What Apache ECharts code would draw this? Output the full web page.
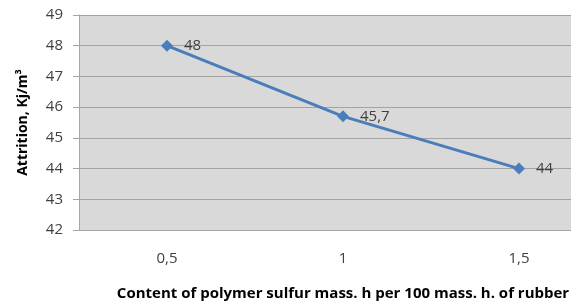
<!DOCTYPE html>
<html>
<head>
<meta charset="utf-8">
<script src="https://cdn.jsdelivr.net/npm/echarts@6/dist/echarts.min.js"></script>
<style>
  html, body { margin: 0; padding: 0; background: #fff; }
  #wrap { width: 571px; height: 303px; overflow: hidden; }
  #main { width: 620px; height: 303px; }
</style>
</head>
<body>
<div id="wrap"><div id="main"></div></div>
<script>
// content of polymer sulfur (categories) and attrition values
const categories = ['0,5', '1', '1,5']
const attrition = [48, 45.7, 44]
const yMin = 42
const yMax = 49

var myChart = echarts.init(document.getElementById('main'))

var option = {
    animation: false,
    textStyle: { fontFamily: 'Open Sans' },
    grid: {
        left: 79,
        right: 13,
        top: 15,
        bottom: 73,
        outerBoundsMode: 'none',
        show: true,
        backgroundColor: '#d9d9d9',
        borderWidth: 0
    },
    xAxis: {
        type: 'category',
        data: categories,
        boundaryGap: true,
        name: 'Content of polymer sulfur mass. h per 100 mass. h. of rubber',
        nameLocation: 'middle',
        nameGap: 56,
        nameTextStyle: { fontSize: 15, fontWeight: 'bold', color: '#000' },
        axisLine: { lineStyle: { color: '#a6a6a6', width: 1 } },
        axisTick: { length: 5, lineStyle: { color: '#a6a6a6' } },
        axisLabel: { fontSize: 15, color: '#404040', margin: 21 }
    },
    yAxis: {
        type: 'value',
        min: yMin,
        max: yMax,
        interval: 1,
        name: 'Attrition, Kj/m³',
        nameLocation: 'middle',
        nameGap: 49,
        nameTextStyle: { fontSize: 14, fontWeight: 'bold', color: '#000' },
        axisLine: { show: true, lineStyle: { color: '#a6a6a6' } },
        axisTick: { show: true, length: 6, lineStyle: { color: '#a6a6a6' } },
        axisLabel: { fontSize: 15, color: '#404040', margin: 16 },
        splitLine: { lineStyle: { color: '#a3a3a3', width: 1 } }
    },
    series: [{
        type: 'line',
        data: attrition,
        symbol: 'diamond',
        symbolSize: 12,
        lineStyle: { color: '#4a7ebb', width: 3 },
        itemStyle: { color: '#4a7ebb' },
        label: {
            show: true,
            position: 'right',
            distance: 11,
            fontSize: 15,
            color: '#404040',
            formatter: function (p) { return String(p.value).replace('.', ',') }
        }
    }]
}

myChart.setOption(option)
</script>
</body>
</html>
